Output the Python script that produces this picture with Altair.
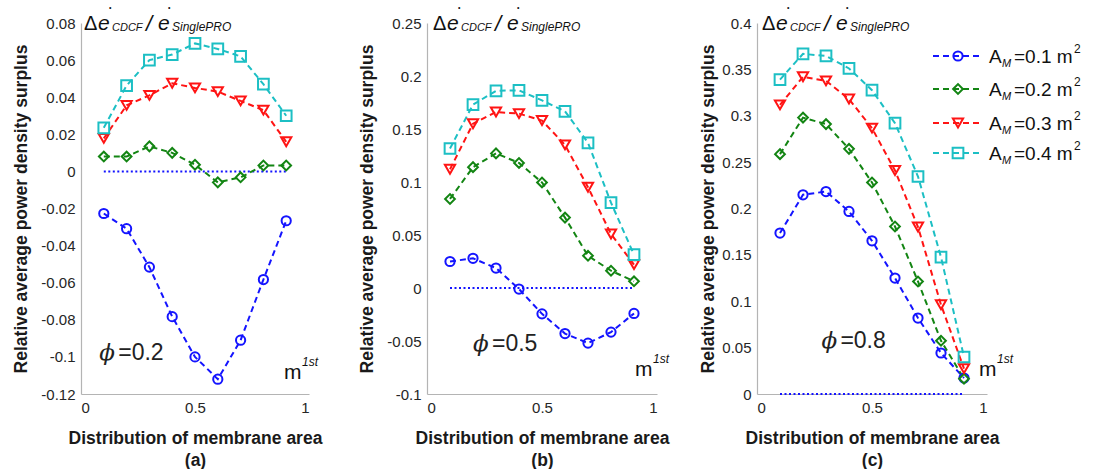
import altair as alt
import pandas as pd

# ---------------- data ----------------
x_vals = [0.1, 0.2, 0.3, 0.4, 0.5, 0.6, 0.7, 0.8, 0.9]
series_names = ["A_M=0.1", "A_M=0.2", "A_M=0.3", "A_M=0.4"]
legend_values = ["=0.1 m", "=0.2 m", "=0.3 m", "=0.4 m"]
colors = ["#1414ff", "#138513", "#ff1414", "#1cbfc4"]
shapes = ["circle", "diamond", "triangle-down", "square"]
marker_sizes = [85, 115, 125, 105]

# panel (a)  phi = 0.2
a_01 = [-0.0227, -0.0309, -0.0516, -0.0783, -0.100, -0.112, -0.091, -0.0583, -0.0266]
a_02 = [0.008, 0.008, 0.0135, 0.010, 0.0036, -0.0059, -0.0032, 0.0032, 0.0032]
a_03 = [0.0178, 0.0356, 0.041, 0.0475, 0.045, 0.043, 0.038, 0.033, 0.016]
a_04 = [0.0235, 0.0463, 0.060, 0.063, 0.069, 0.066, 0.062, 0.047, 0.030]

# panel (b)  phi = 0.5
b_01 = [0.025, 0.028, 0.0188, -0.001, -0.0244, -0.043, -0.052, -0.0416, -0.024]
b_02 = [0.084, 0.114, 0.127, 0.118, 0.0996, 0.0664, 0.0304, 0.0163, 0.0063]
b_03 = [0.112, 0.155, 0.166, 0.1645, 0.158, 0.135, 0.095, 0.051, 0.022]
b_04 = [0.1316, 0.173, 0.186, 0.1865, 0.177, 0.1667, 0.137, 0.0805, 0.0314]

# panel (c)  phi = 0.8
c_01 = [0.1735, 0.2148, 0.2183, 0.1968, 0.1652, 0.125, 0.0819, 0.0442, 0.0172]
c_02 = [0.2586, 0.298, 0.291, 0.2643, 0.228, 0.1806, 0.1213, 0.0574, 0.0165]
c_03 = [0.3117, 0.342, 0.3376, 0.318, 0.2866, 0.241, 0.18, 0.0962, 0.0273]
c_04 = [0.339, 0.3667, 0.3645, 0.351, 0.3276, 0.292, 0.2345, 0.1476, 0.0399]

zero_x = [0.1, 0.9]
zero_y = [0.0, 0.0]

a_yticks = [-0.12, -0.1, -0.08, -0.06, -0.04, -0.02, 0, 0.02, 0.04, 0.06, 0.08]
b_yticks = [-0.1, -0.05, 0, 0.05, 0.1, 0.15, 0.2, 0.25]
c_yticks = [0, 0.05, 0.1, 0.15, 0.2, 0.25, 0.3, 0.35, 0.4]
x_ticks = [0, 0.5, 1]

FONT = "Liberation Sans"
dummy = pd.DataFrame({"k": [0]})
label_expr = "replace(format(datum.value, '~g'), '\u2212', '-')"


def txt(s, x, y, size, style="normal", font=FONT, color="#111111", weight="normal", align="left", baseline="alphabetic"):
    return alt.Chart(dummy).mark_text(
        text=s, fontSize=size, fontStyle=style, font=font, color=color,
        fontWeight=weight, align=align, baseline=baseline,
    ).encode(x=alt.value(x), y=alt.value(y))


def panel(series, ydom, yticks, letter, phi_text, phi_x, phi_y, m_x, m_y, width, height,
          ytitle_pad=10, head_x=3, legend=False):
    rows = []
    for name, vals in zip(series_names, series):
        for xv, yv in zip(x_vals, vals):
            rows.append({"x": xv, "y": yv, "s": name})
    df = pd.DataFrame(rows)
    zdf = pd.DataFrame({"x": zero_x, "y": zero_y})

    xenc = alt.X("x:Q", scale=alt.Scale(domain=[0, 1], nice=False),
                 axis=alt.Axis(values=x_ticks, title=["Distribution of membrane area", letter],
                               labelExpr=label_expr, labelOverlap=False, tickCount=20))
    yenc = alt.Y("y:Q", scale=alt.Scale(domain=ydom, nice=False, zero=False),
                 axis=alt.Axis(values=yticks, title="Relative average power density surplus",
                               labelExpr=label_expr, labelOverlap=False, tickCount=40,
                               titlePadding=ytitle_pad))
    cenc = alt.Color("s:N", scale=alt.Scale(domain=series_names, range=colors), legend=None)
    senc = alt.Shape("s:N", scale=alt.Scale(domain=series_names, range=shapes), legend=None)
    zenc = alt.Size("s:N", scale=alt.Scale(domain=series_names, range=marker_sizes), legend=None)

    zero = alt.Chart(zdf).mark_line(color="#1414ff", strokeDash=[2, 2.5], strokeWidth=2).encode(xenc, yenc)
    lines = alt.Chart(df).mark_line(strokeDash=[6, 4], strokeWidth=2).encode(xenc, yenc, cenc)
    pts = alt.Chart(df).mark_point(filled=False, strokeWidth=2, opacity=1).encode(
        xenc, yenc, color=cenc, shape=senc, size=zenc)

    layers = [zero, lines, pts]

    # header  Δė_CDCF / ė_SinglePRO
    hb = 7
    h = head_x
    layers += [
        txt("\u0394", h, hb, 20),
        txt("e", h + 14, hb, 21, style="italic"),
        txt("CDCF", h + 28, hb + 1, 11, style="italic"),
        txt("/", h + 62, hb + 1, 22, style="italic"),
        txt("e", h + 74, hb, 21, style="italic"),
        txt("SinglePRO", h + 88, hb + 1, 12, style="italic"),
        txt("\u2022", h + 25, hb - 20, 7),
        txt("\u2022", h + 84, hb - 20, 7),
    ]

    # phi annotation
    phi_df = pd.DataFrame({"x": [phi_x], "y": [phi_y]})
    layers += [
        alt.Chart(phi_df).mark_text(text="\u03d5", fontSize=23, fontStyle="italic", font="DejaVu Serif",
                                    color="#222222", align="left", baseline="middle").encode(x="x:Q", y="y:Q"),
        alt.Chart(phi_df).mark_text(text="=" + phi_text, fontSize=23, font=FONT, color="#222222",
                                    align="left", baseline="middle", dx=19).encode(x="x:Q", y="y:Q"),
    ]

    # m^1st
    layers += [
        txt("m", m_x, m_y, 21),
        txt("1st", m_x + 18, m_y - 13, 12, style="italic"),
    ]

    if legend:
        lx0, lx1, lm, tx = 176, 225, 201, 232
        rows_y = [33, 66, 100, 130]
        for i, (nm, lab) in enumerate(zip(series_names, legend_values)):
            yy = rows_y[i]
            ldf = pd.DataFrame({"s": [nm]})
            layers.append(
                alt.Chart(ldf).mark_rule(strokeDash=[6, 4], strokeWidth=2).encode(
                    x=alt.value(lx0), x2=alt.value(lx1), y=alt.value(yy), color=cenc))
            layers.append(
                alt.Chart(ldf).mark_point(filled=False, strokeWidth=2, opacity=1).encode(
                    x=alt.value(lm), y=alt.value(yy), color=cenc, shape=senc, size=zenc))
            layers += [
                txt("A", tx, yy + 7, 19),
                txt("M", tx + 13, yy + 11, 11, style="italic"),
                txt(lab, tx + 25, yy + 7, 19),
                txt("2", tx + 85, yy - 3, 12),
            ]

    return alt.layer(*layers).properties(width=width, height=height)


H = 371
pa = panel([a_01, a_02, a_03, a_04], [-0.12, 0.08], a_yticks, "(a)", "0.2", 0.08, -0.098,
           203, H - 15, 228, H)
pb = panel([b_01, b_02, b_03, b_04], [-0.1, 0.25], b_yticks, "(b)", "0.5", 0.2, -0.053,
           208, H - 18, 230, H, head_x=6)
pc = panel([c_01, c_02, c_03, c_04], [0, 0.4], c_yticks, "(c)", "0.8", 0.28, 0.057,
           222, H - 18, 230, H, ytitle_pad=4, head_x=5, legend=True)

chart = alt.hconcat(alt.hconcat(pa, pb, spacing=36), pc, spacing=29).properties(
    padding={"left": 12, "top": 4, "right": 0, "bottom": 0},
    background="white",
).configure_view(stroke=None).configure_axis(
    labelFont=FONT, labelFontSize=15, labelColor="#262626", labelOverlap=False,
    titleFont=FONT, titleFontSize=17.5, titleFontWeight="bold", titleColor="#1a1a1a",
    domainColor="#b4b4b4", domainWidth=1.2, ticks=False, grid=False,
    labelPadding=6, titleLineHeight=22,
).configure_axisX(titlePadding=14)

chart.save("out.html", embed_options={"renderer": "svg", "actions": False})
